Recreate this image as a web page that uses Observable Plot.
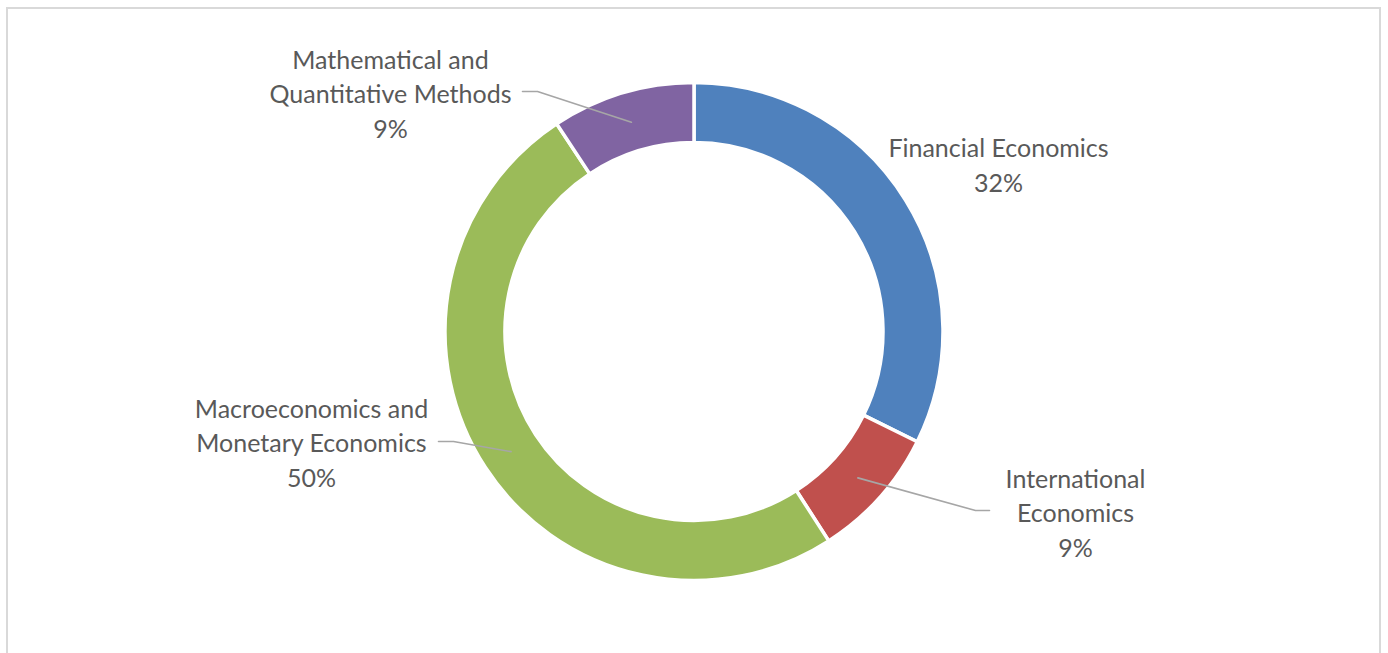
<!DOCTYPE html>
<html><head><meta charset="utf-8">
<script src="https://cdn.jsdelivr.net/npm/d3@7"></script>
<script src="https://cdn.jsdelivr.net/npm/@observablehq/plot@0.6"></script>
<style>
html,body{margin:0;padding:0;background:#fff;overflow:hidden;width:1388px;height:653px;}
#frame{position:absolute;left:6px;top:7px;width:1375px;height:700px;border:2px solid #d9d9d9;box-sizing:border-box;}
#chart{position:absolute;left:0;top:0;}
</style></head><body>
<div id="frame"></div><div id="chart"></div>
<script>
// ---- data ----
const categories = ["Financial Economics", "International Economics", "Macroeconomics and Monetary Economics", "Mathematical and Quantitative Methods"];
const shares = [32.3, 8.6, 49.8, 9.3];
const percentLabels = ["32%", "9%", "50%", "9%"];
const labelLines = [["Financial Economics"], ["International", "Economics"], ["Macroeconomics and", "Monetary Economics"], ["Mathematical and", "Quantitative Methods"]];
const colors = ["#4F81BD", "#C0504D", "#9BBB59", "#8064A2"];

// ---- layout (styling, not data) ----
const W = 1388, H = 653;
const cx = 694, cy = 331.5, R = 249, r = 189;
const labelAnchors = [[998, 163], [1075, 511], [311, 441], [390, 92]];
const leaderElbows = [null, [[975, 510], [989, 510]], [[453, 441], [438, 441]], [[537, 91], [522, 91]]];

const data = categories.map((c, i) => ({category: c, share: shares[i], pct: percentLabels[i], color: colors[i], i}));
const arcs = d3.pie().sort(null).value(d => d.share)(data);

function ring(index, scales) {
  const ox = scales.x(cx), oy = scales.y(cy);
  const k = scales.x(cx + 1) - scales.x(cx);
  const arc = d3.arc().innerRadius(r * k).outerRadius(R * k);
  const g = d3.create("svg:g").attr("transform", `translate(${ox},${oy})`);
  g.selectAll("path").data(arcs).join("path")
    .attr("d", arc)
    .attr("fill", d => d.data.color)
    .attr("stroke", "#fff")
    .attr("stroke-width", 3.5)
    .attr("stroke-linejoin", "miter");
  return g.node();
}

const leaders = [];
arcs.forEach((a, i) => {
  if (!leaderElbows[i]) return;
  const mid = (a.startAngle + a.endAngle) / 2, rm = (R + r) / 2;
  leaders.push({i, x: cx + rm * Math.sin(mid), y: cy - rm * Math.cos(mid)});
  leaderElbows[i].forEach(([x, y]) => leaders.push({i, x, y}));
});

const labels = data.map((d, i) => ({
  x: labelAnchors[i][0], y: labelAnchors[i][1],
  text: labelLines[i].join("\n") + "\n" + d.pct
}));

const chart = Plot.plot({
  width: W, height: H,
  margin: 0,
  x: {domain: [0, W], range: [0, W], axis: null},
  y: {domain: [0, H], range: [0, H], axis: null},
  style: {background: "transparent", overflow: "visible"},
  marks: [
    ring,
    Plot.line(leaders, {x: "x", y: "y", z: "i", stroke: "#a6a6a6", strokeWidth: 1.6}),
    Plot.text(labels, {x: "x", y: "y", text: "text", lineAnchor: "middle", lineHeight: 1.37, textAnchor: "middle", fontSize: 25, fontFamily: "Lato", fill: "#595959"})
  ]
});
document.getElementById("chart").appendChild(chart);
</script>
</body></html>
